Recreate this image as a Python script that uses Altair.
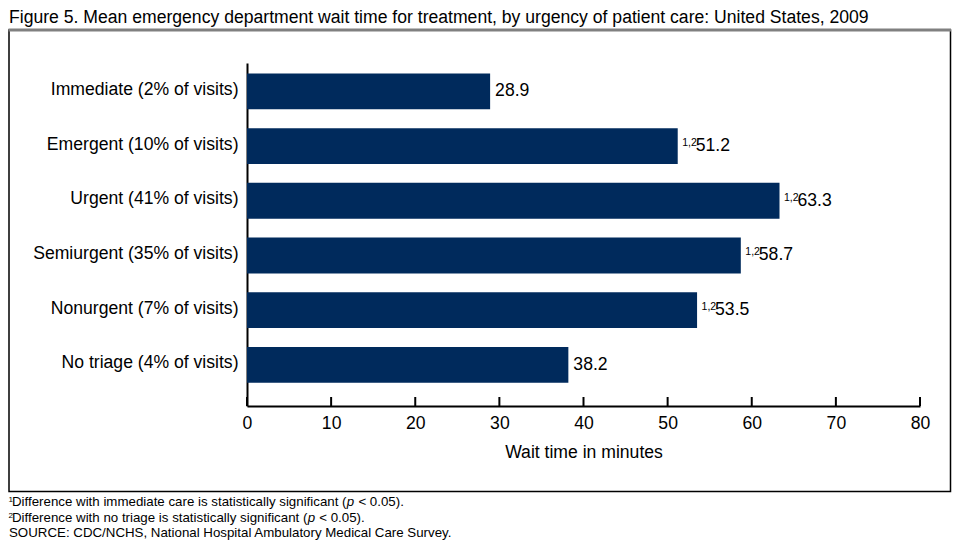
import altair as alt
import pandas as pd

# ---- data ----
categories = [
    "Immediate (2% of visits)",
    "Emergent (10% of visits)",
    "Urgent (41% of visits)",
    "Semiurgent (35% of visits)",
    "Nonurgent (7% of visits)",
    "No triage (4% of visits)",
]
values = [28.9, 51.2, 63.3, 58.7, 53.5, 38.2]
sups = ["", "1,2", "1,2", "1,2", "1,2", ""]
tick_values = [0, 10, 20, 30, 40, 50, 60, 70, 80]

TITLE = ("Figure 5. Mean emergency department wait time for treatment, "
         "by urgency of patient care: United States, 2009")
FN1_A = "Difference with immediate care is statistically significant ("
FN2_A = "Difference with no triage is statistically significant ("
FN_B = "< 0.05)."
FN3 = "SOURCE: CDC/NCHS, National Hospital Ambulatory Medical Care Survey."

NAVY = "#002a5c"
FONT = "Liberation Sans"
W, H = 673, 343
FN_SIZE = 13.3

# Arial / Liberation Sans advance widths (per 1000 em) for laying out footnote pieces
_AW = {"D": 722, "i": 222, "f": 278, "e": 556, "r": 333, "n": 556, "c": 500, " ": 278,
       "w": 722, "t": 278, "h": 556, "m": 833, "d": 556, "a": 556, "s": 500, "y": 500,
       "l": 222, "g": 556, "o": 556, "(": 333, "p": 556}


def text_width(s, size):
    return sum(_AW.get(ch, 556) for ch in s) * size / 1000.0


df = pd.DataFrame({"category": categories, "value": values, "sup": sups})
ticks_df = pd.DataFrame({"t": tick_values})
one = pd.DataFrame({"k": [0]})

x_scale = alt.Scale(domain=[0, 80], nice=False)
x_axis = alt.Axis(values=tick_values, tickSize=0, ticks=False, domainColor="black",
                  domainWidth=2, labelFontSize=17.6, labelColor="black",
                  labelPadding=8, labelFlush=False, titleFontSize=17.6,
                  titleFontWeight="normal", titleColor="black", titlePadding=12,
                  grid=False, labelFont=FONT, titleFont=FONT)
y_enc = alt.Y("category:N", sort=categories,
              scale=alt.Scale(paddingInner=0.345, paddingOuter=0.307, align=0.31),
              axis=alt.Axis(ticks=False, tickSize=0, domainColor="black", domainWidth=2,
                            labelFontSize=17.6, labelColor="black", labelPadding=9,
                            labelLimit=400, labelFont=FONT, labelBaseline="middle",
                            labelOffset=-1.5),
              title=None)
X_TITLE = "Wait time in minutes"

base = alt.Chart(df)

bars = base.mark_bar(color=NAVY).encode(
    x=alt.X("value:Q", scale=x_scale, axis=x_axis, title=X_TITLE),
    y=y_enc,
)

lab_plain = base.transform_filter(alt.datum.sup == "").mark_text(
    align="left", baseline="middle", dx=5, fontSize=17.6, font=FONT, color="black"
).encode(x=alt.X("value:Q", scale=x_scale, axis=x_axis, title=X_TITLE), y=y_enc,
         text=alt.Text("value:Q", format=".1f"))

lab_sig = base.transform_filter(alt.datum.sup != "").mark_text(
    align="left", baseline="middle", dx=18, fontSize=17.6, font=FONT, color="black"
).encode(x=alt.X("value:Q", scale=x_scale, axis=x_axis, title=X_TITLE), y=y_enc,
         text=alt.Text("value:Q", format=".1f"))

lab_sup = base.transform_filter(alt.datum.sup != "").mark_text(
    align="left", baseline="alphabetic", dx=4.5, dy=0, fontSize=10.5, font=FONT, color="black"
).encode(x=alt.X("value:Q", scale=x_scale, axis=x_axis, title=X_TITLE), y=y_enc,
         text="sup:N")

tick_marks = alt.Chart(ticks_df).mark_rule(color="black", strokeWidth=2).encode(
    x=alt.X("t:Q", scale=x_scale, axis=x_axis, title=X_TITLE),
    y=alt.value(H - 9), y2=alt.value(H),
)

deco = alt.Chart(one)
frame = deco.mark_rect(fillOpacity=0, stroke="black", strokeWidth=1.5).encode(
    x=alt.value(-238), x2=alt.value(703.5), y=alt.value(-33), y2=alt.value(428.5))
top_line = deco.mark_rule(color="#808080", strokeWidth=3).encode(
    x=alt.value(-238.5), x2=alt.value(704), y=alt.value(-33))


def txt(s, x, y, size=FN_SIZE, style="normal"):
    return deco.mark_text(align="left", baseline="alphabetic", fontSize=size,
                          font=FONT, color="black", fontStyle=style).encode(
        x=alt.value(x), y=alt.value(y), text=alt.value(s))


title = txt(TITLE, -238, -40, size=17.6)
fx = -235
w1 = text_width(FN1_A, FN_SIZE)
w2 = text_width(FN2_A, FN_SIZE)
wp = text_width("p ", FN_SIZE) + 0.5
fn = [
    txt("1", -238.5, 439, size=8),
    txt(FN1_A, fx, 443),
    txt("p", fx + w1, 443, style="italic"),
    txt(FN_B, fx + w1 + wp, 443),
    txt("2", -238.5, 454.5, size=8),
    txt(FN2_A, fx, 458.5),
    txt("p", fx + w2, 458.5, style="italic"),
    txt(FN_B, fx + w2 + wp, 458.5),
    txt(FN3, -238, 474),
]

chart = alt.layer(frame, top_line, bars, tick_marks, lab_plain, lab_sig, lab_sup,
                  title, *fn).properties(
    width=W, height=H,
    autosize=alt.AutoSizeParams(type="none"),
    padding={"left": 239, "top": 55, "right": 32, "bottom": 134},
    background="white",
).configure_view(stroke=None)

chart.save("out.html", embed_options={"renderer": "svg", "actions": False})
